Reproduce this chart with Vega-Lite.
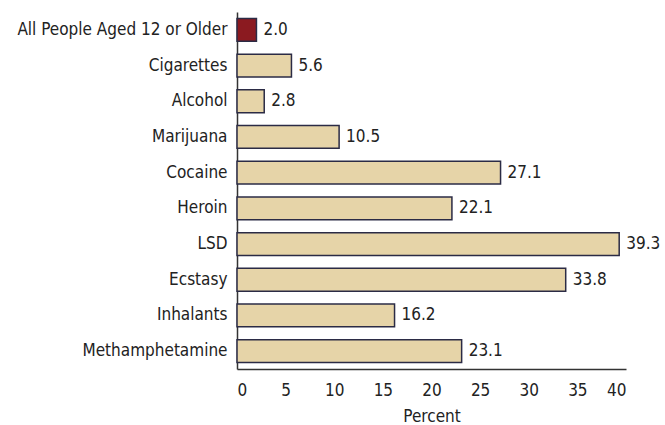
{
  "$schema": "https://vega.github.io/schema/vega-lite/v6.json",
  "autosize": {"type": "none"},
  "padding": {"left": 237, "top": 12, "right": 39, "bottom": 56},
  "width": 389,
  "height": 357,
  "background": "white",
  "config": {
    "view": {"stroke": null},
    "font": "DejaVu Sans Condensed, Liberation Sans Narrow, Roboto, sans-serif",
    "axis": {"labelFont": "DejaVu Sans Condensed, Liberation Sans Narrow, Roboto, sans-serif", "titleFont": "DejaVu Sans Condensed, Liberation Sans Narrow, Roboto, sans-serif", "labelColor": "#222222", "titleColor": "#222222", "domainColor": "#333333", "domainWidth": 1.5}
  },
  "data": {
    "values": [
      {"cat": "All People Aged 12 or Older", "pct": 2.0, "grp": "all"},
      {"cat": "Cigarettes", "pct": 5.6, "grp": "sub"},
      {"cat": "Alcohol", "pct": 2.8, "grp": "sub"},
      {"cat": "Marijuana", "pct": 10.5, "grp": "sub"},
      {"cat": "Cocaine", "pct": 27.1, "grp": "sub"},
      {"cat": "Heroin", "pct": 22.1, "grp": "sub"},
      {"cat": "LSD", "pct": 39.3, "grp": "sub"},
      {"cat": "Ecstasy", "pct": 33.8, "grp": "sub"},
      {"cat": "Inhalants", "pct": 16.2, "grp": "sub"},
      {"cat": "Methamphetamine", "pct": 23.1, "grp": "sub"}
    ]
  },
  "encoding": {
    "y": {
      "field": "cat", "type": "nominal", "sort": null,
      "scale": {"paddingInner": 0.36, "paddingOuter": 0.18},
      "axis": {"title": null, "ticks": false, "labelFontSize": 17, "labelPadding": 10, "labelLimit": 300}
    },
    "x": {
      "field": "pct", "type": "quantitative",
      "scale": {"domain": [0, 40], "nice": false},
      "axis": {"title": "Percent", "titleFontSize": 17, "titleFontWeight": "normal", "titlePadding": 10, "labelFontSize": 17, "ticks": false, "labelPadding": 13, "grid": false, "values": [0, 5, 10, 15, 20, 25, 30, 35, 40]}
    }
  },
  "layer": [
    {
      "mark": {"type": "bar", "stroke": "#2b2b45", "strokeWidth": 1.5},
      "encoding": {
        "color": {
          "field": "grp", "type": "nominal",
          "scale": {"domain": ["all", "sub"], "range": ["#8b1a20", "#e6d4a8"]},
          "legend": null
        }
      }
    },
    {
      "mark": {"type": "text", "align": "left", "dx": 7, "fontSize": 17, "color": "#222222", "font": "DejaVu Sans Condensed, Liberation Sans Narrow, Roboto, sans-serif"},
      "encoding": {"text": {"field": "pct", "type": "quantitative", "format": ".1f"}}
    }
  ]
}
